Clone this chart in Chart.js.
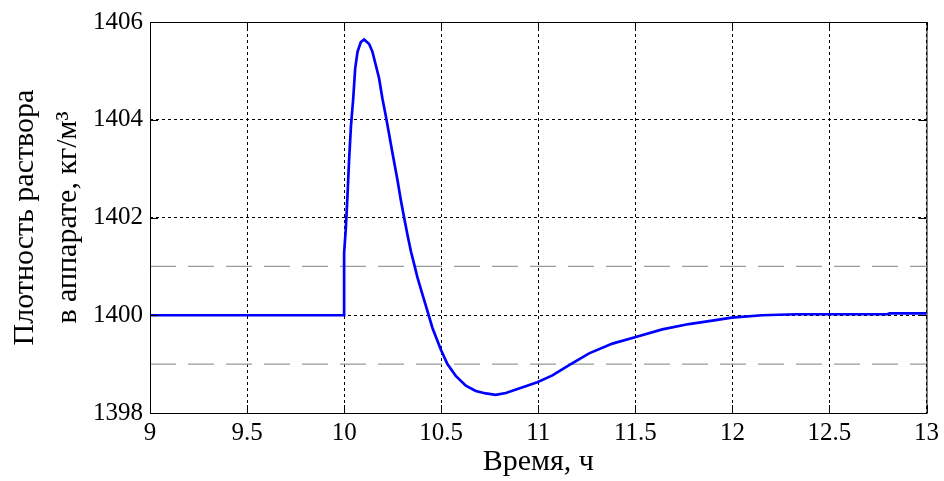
<!DOCTYPE html>
<html>
<head>
<meta charset="utf-8">
<script src="https://cdn.jsdelivr.net/npm/chart.js@4/dist/chart.umd.min.js"></script>
<style>
  html, body { margin: 0; padding: 0; background: #fff; }
  #kutu { width: 944px; height: 481px; }
</style>
</head>
<body>
<div id="kutu"><canvas id="grafik" width="944" height="481"></canvas></div>
<script>
// Время, ч
const zaman = [9.0, 10.0, 10.0, 10.009, 10.017, 10.026, 10.035, 10.047, 10.057, 10.069, 10.086,
  10.103, 10.129, 10.146, 10.163, 10.18, 10.197, 10.215, 10.232, 10.249, 10.275, 10.292,
  10.309, 10.326, 10.344, 10.361, 10.378, 10.403, 10.429, 10.455, 10.498, 10.532, 10.575,
  10.627, 10.678, 10.73, 10.781, 10.833, 10.901, 10.995, 11.073, 11.159, 11.262, 11.382,
  11.498, 11.639, 11.776, 11.914, 11.996, 12.154, 12.326, 12.8, 12.81, 13.0];
// Плотность раствора, кг/м3
const yogunluk = [1400, 1400, 1401.28, 1401.79, 1402.43, 1403.21, 1403.86, 1404.44, 1405.05, 1405.39, 1405.59,
  1405.64, 1405.55, 1405.39, 1405.12, 1404.85, 1404.44, 1404.07, 1403.7, 1403.32, 1402.76, 1402.36,
  1402.0, 1401.65, 1401.31, 1401.04, 1400.77, 1400.43, 1400.09, 1399.74, 1399.3, 1399.0, 1398.76,
  1398.56, 1398.45, 1398.4, 1398.37, 1398.41, 1398.5, 1398.63, 1398.77, 1398.98, 1399.22, 1399.42,
  1399.55, 1399.71, 1399.82, 1399.9, 1399.95, 1400.0, 1400.02, 1400.02, 1400.04, 1400.04];
// допустимые границы
const sinirZaman = [9, 13];
const ustSinir = [1401, 1401];
const altSinir = [1399, 1399];

const xTikler = [9, 9.5, 10, 10.5, 11, 11.5, 12, 12.5, 13];
const yTikler = [1398, 1400, 1402, 1404, 1406];

const yaziTipi = "'Liberation Serif', 'Times New Roman', serif";

// рамка и внутренние штрихи как в MATLAB
const cerceve = {
    id: 'cerceve',
    afterDraw(chart) {
        const { ctx, chartArea: a, scales } = chart;
        ctx.save();
        ctx.strokeStyle = '#000';
        ctx.lineWidth = 1;
        ctx.setLineDash([]);
        ctx.strokeRect(a.left + 0.5, a.top + 0.5, a.right - a.left, a.bottom - a.top);
        const L = 8;
        ctx.beginPath();
        xTikler.forEach(v => {
            const px = Math.round(scales.x.getPixelForValue(v)) + 0.5;
            ctx.moveTo(px, a.bottom); ctx.lineTo(px, a.bottom - L);
            ctx.moveTo(px, a.top); ctx.lineTo(px, a.top + L);
        });
        yTikler.forEach(v => {
            const py = Math.round(scales.y.getPixelForValue(v)) + 0.5;
            ctx.moveTo(a.left, py); ctx.lineTo(a.left + L, py);
            ctx.moveTo(a.right, py); ctx.lineTo(a.right - L, py);
        });
        ctx.stroke();
        ctx.restore();
    }
};

new Chart(document.getElementById('grafik'), {
    type: 'line',
    data: {
        datasets: [
            {
                data: zaman.map((t, i) => ({ x: t, y: yogunluk[i] })),
                borderColor: '#0000ff',
                borderWidth: 2.7,
                pointRadius: 0,
                tension: 0,
                order: 0
            },
            {
                data: sinirZaman.map((t, i) => ({ x: t, y: ustSinir[i] })),
                borderColor: '#999999',
                borderWidth: 1.3,
                borderDash: [26, 12],
                pointRadius: 0,
                order: 1
            },
            {
                data: sinirZaman.map((t, i) => ({ x: t, y: altSinir[i] })),
                borderColor: '#999999',
                borderWidth: 1.3,
                borderDash: [26, 12],
                pointRadius: 0,
                order: 1
            }
        ]
    },
    options: {
        responsive: false,
        animation: false,
        layout: { padding: { top: 20, right: 16, left: 0, bottom: 0 } },
        plugins: { legend: { display: false }, tooltip: { enabled: false } },
        scales: {
            x: {
                type: 'linear',
                min: 9, max: 13,
                afterFit(s) { s.height = 68; },
                afterBuildTicks(s) { s.ticks = xTikler.map(v => ({ value: v })); },
                ticks: {
                    color: '#000',
                    padding: 5,
                    maxRotation: 0,
                    font: { family: yaziTipi, size: 25 },
                    callback: v => String(v)
                },
                grid: { color: '#000', lineWidth: 1, drawTicks: false },
                border: { display: false, dash: [3, 3] },
                title: {
                    display: true,
                    text: 'Время, ч',
                    color: '#000',
                    font: { family: yaziTipi, size: 30, lineHeight: 1.2 },
                    padding: { top: 0, bottom: 1 }
                }
            },
            y: {
                min: 1398, max: 1406,
                afterFit(s) { s.width = 150; },
                afterBuildTicks(s) { s.ticks = yTikler.map(v => ({ value: v })); },
                ticks: {
                    color: '#000',
                    padding: 7,
                    font: { family: yaziTipi, size: 25 },
                    callback: v => String(v)
                },
                grid: { color: '#000', lineWidth: 1, drawTicks: false },
                border: { display: false, dash: [3, 3] },
                title: {
                    display: true,
                    text: ['Плотность раствора', 'в аппарате, кг/м³'],
                    color: '#000',
                    font: { family: yaziTipi, size: 30, lineHeight: 1.45 },
                    padding: { top: 3, bottom: 0 }
                }
            }
        }
    },
    plugins: [cerceve]
});
</script>
</body>
</html>
